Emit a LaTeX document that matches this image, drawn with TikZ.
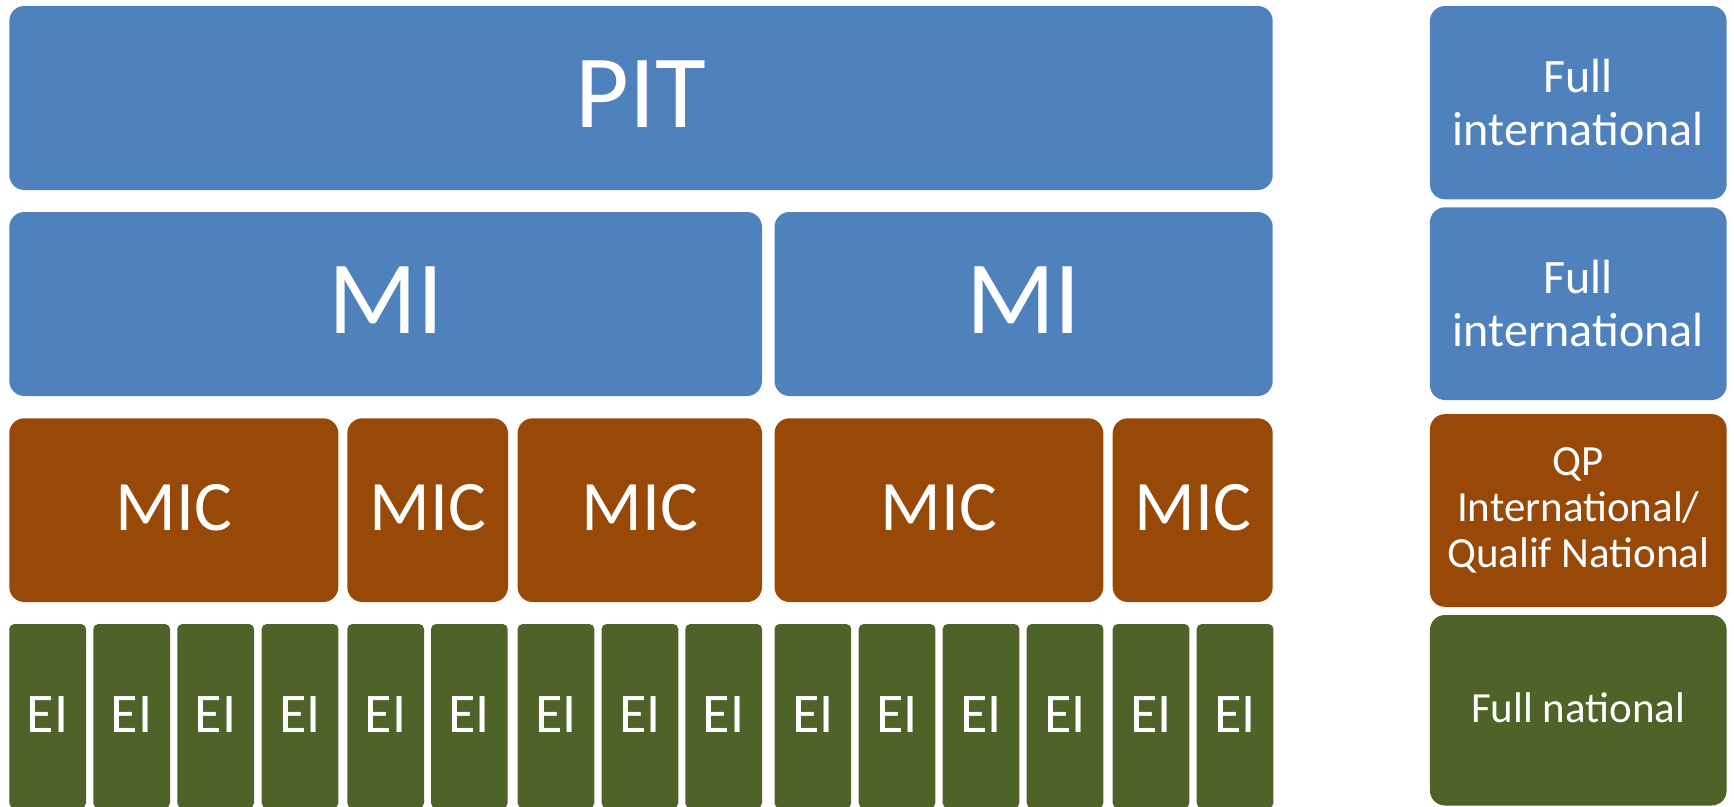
\documentclass[tikz,border=0pt]{standalone}
\usepackage{fontspec}
\setmainfont{Carlito}
\definecolor{piblue}{HTML}{4F81BD}
\definecolor{pibrown}{HTML}{984807}
\definecolor{pigreen}{HTML}{4F6228}
\tikzset{
  blk/.style={rectangle, rounded corners=15pt, inner sep=0pt, text=white, align=center},
  bigtxt/.style={blk, fill=piblue, minimum height=184pt, font=\fontsize{104}{120}\selectfont, text height=73pt, text depth=15pt},
  mictxt/.style={blk, fill=pibrown, minimum height=183.7pt, font=\fontsize{71}{85}\selectfont, text height=50pt, text depth=10pt},
  eibox/.style={blk, rounded corners=5pt, fill=pigreen, minimum width=76.7pt, minimum height=184pt, font=\fontsize{56}{66}\selectfont, text height=39pt, text depth=6pt},
  legbox/.style={blk, minimum width=296.7pt, minimum height=192.7pt}
}
\begin{document}
\begin{tikzpicture}[x=1pt,y=-1pt]
\useasboundingbox (0,0) rectangle (1734,806);
% top level
\node[bigtxt, minimum width=1263.4pt] (pit) at (641,98) {PIT};
% MI row
\node[bigtxt, minimum width=752.7pt] (mi1) at (385.65,304) {MI};
\node[bigtxt, minimum width=498.2pt] (mi2) at (1023.6,304) {MI};
% MIC row
\node[mictxt, minimum width=329pt] (mic1) at (173.8,510.15) {MIC};
\node[mictxt, minimum width=160.7pt] (mic2) at (427.65,510.15) {MIC};
\node[mictxt, minimum width=244.4pt] (mic3) at (639.8,510.15) {MIC};
\node[mictxt, minimum width=328.8pt] (mic4) at (938.9,510.15) {MIC};
\node[mictxt, minimum width=160pt] (mic5) at (1192.7,510.15) {MIC};
% EI row
\foreach \x [count=\i] in {9.3,93.3,177.3,261.7,347.3,431,517.6,601.6,685.3,774.5,858.7,942.7,1026.7,1112.7,1196.7}
  \node[eibox] (ei\i) at (\x+38.35,716) {EI};
% legend column
\node[legbox, fill=piblue, minimum height=193.3pt, font=\fontsize{48}{53}\selectfont] (leg1) at (1578.3,102.65) {Full\\international};
\node[legbox, fill=piblue, font=\fontsize{48}{53}\selectfont] (leg2) at (1578.3,303.65) {Full\\international};
\node[legbox, fill=pibrown, font=\fontsize{43}{46}\selectfont] (leg3) at (1578.3,510.5) {QP\\International/\\Qualif National};
\node[legbox, fill=pigreen, minimum height=190.5pt, font=\fontsize{43}{50}\selectfont, text height=30pt, text depth=5pt] (leg4) at (1578.3,710.25) {Full national};
\end{tikzpicture}
\end{document}
